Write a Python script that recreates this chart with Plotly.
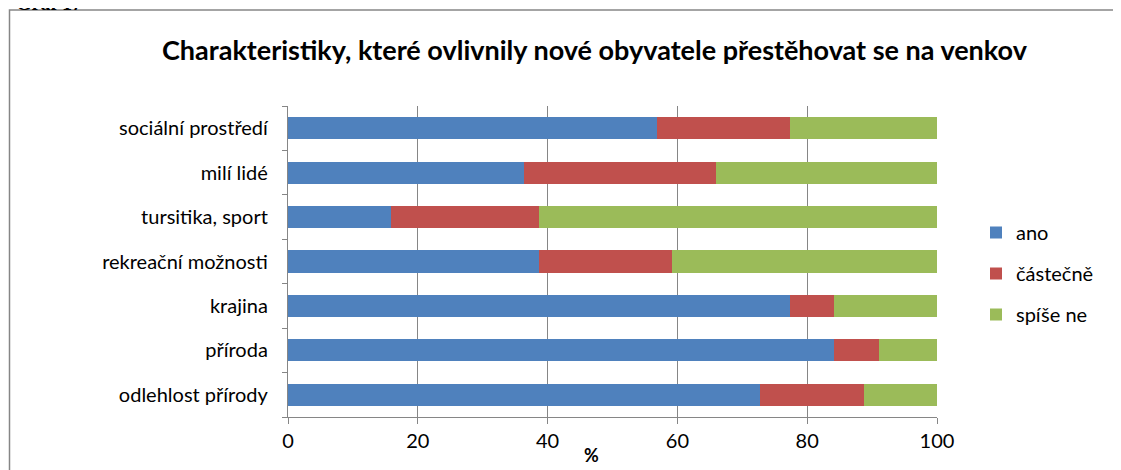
import plotly.graph_objects as go

categories = ["odlehlost přírody", "příroda", "krajina", "rekreační možnosti",
              "tursitika, sport", "milí lidé", "sociální prostředí"]
ano = [72.8, 84.2, 77.3, 38.7, 15.8, 36.4, 56.9]
castecne = [15.9, 6.8, 6.9, 20.5, 22.8, 29.6, 20.4]
spise_ne = [11.3, 9.0, 15.8, 40.8, 61.4, 34.0, 22.7]
series_names = ["ano", "částečně", "spíše ne"]
colors = ["#4F81BD", "#C0504D", "#9BBB59"]
x_ticks = [0, 20, 40, 60, 80, 100]

# page has an 8px body margin; figure coordinates = page coordinates - 8
W, H = 1113, 462
L, R, T, B = 280, 929, 98, 409


def px(x):
    return (x - L) / (R - L)


def py(y):
    return (B - y) / (B - T)


fig = go.Figure()
for name, vals, col in zip(series_names, [ano, castecne, spise_ne], colors):
    fig.add_trace(go.Bar(y=categories, x=vals, name=name, orientation="h",
                         legendgroup=name,
                         marker=dict(color=col, line=dict(width=0))))

font_family = "Lato, Carlito, sans-serif"
fig.update_layout(
    width=W, height=H,
    barmode="stack", bargap=0.5,
    margin=dict(l=L, r=W - R, t=T, b=H - B, autoexpand=False),
    paper_bgcolor="white", plot_bgcolor="white",
    font=dict(family=font_family, size=20, color="black"),
    showlegend=True,
    legend=dict(x=px(968), y=py(205), xanchor="left", yanchor="top",
                traceorder="grouped", font=dict(size=20), tracegroupgap=12,
                itemwidth=30, bgcolor="rgba(0,0,0,0)"),
    xaxis=dict(range=[0, 100], tickvals=x_ticks, ticktext=[str(v) for v in x_ticks],
               showgrid=True, gridcolor="#868686", gridwidth=1.3,
               showline=True, linecolor="#868686", linewidth=1.3,
               ticks="outside", ticklen=6, tickcolor="#868686", tickwidth=1.3,
               tickfont=dict(size=20), zeroline=False, fixedrange=True),
    yaxis=dict(categoryorder="array", categoryarray=categories,
               showline=True, linecolor="#868686", linewidth=1.3,
               ticks="outside", ticklen=5, tickcolor="#868686", tickwidth=1.3,
               tickson="boundaries", showgrid=False, ticklabelstandoff=15,
               tickfont=dict(size=20), fixedrange=True),
    annotations=[
        dict(text="<b>Charakteristiky, které ovlivnily nové obyvatele přestěhovat se na venkov</b>",
             xref="paper", yref="paper", x=px(587), y=py(41), xanchor="center", yanchor="middle",
             showarrow=False, font=dict(size=27, color="black")),
        dict(text="<b>%</b>", xref="paper", yref="paper", x=px(583), y=py(447),
             xanchor="center", yanchor="middle", showarrow=False, font=dict(size=18)),
        dict(text="<b>Graf 17</b>", xref="paper", yref="paper", x=px(6), y=py(8),
             xanchor="left", yanchor="bottom", showarrow=False,
             font=dict(size=20, family="Liberation Serif, serif", color="black")),
    ],
    shapes=[
        dict(type="rect", xref="paper", yref="paper", x0=px(1.5), y0=py(2),
             x1=px(1130), y1=py(480), line=dict(color="#868686", width=1.5),
             fillcolor="rgba(0,0,0,0)", layer="below"),
    ],
)

fig.write_html("out.html")
